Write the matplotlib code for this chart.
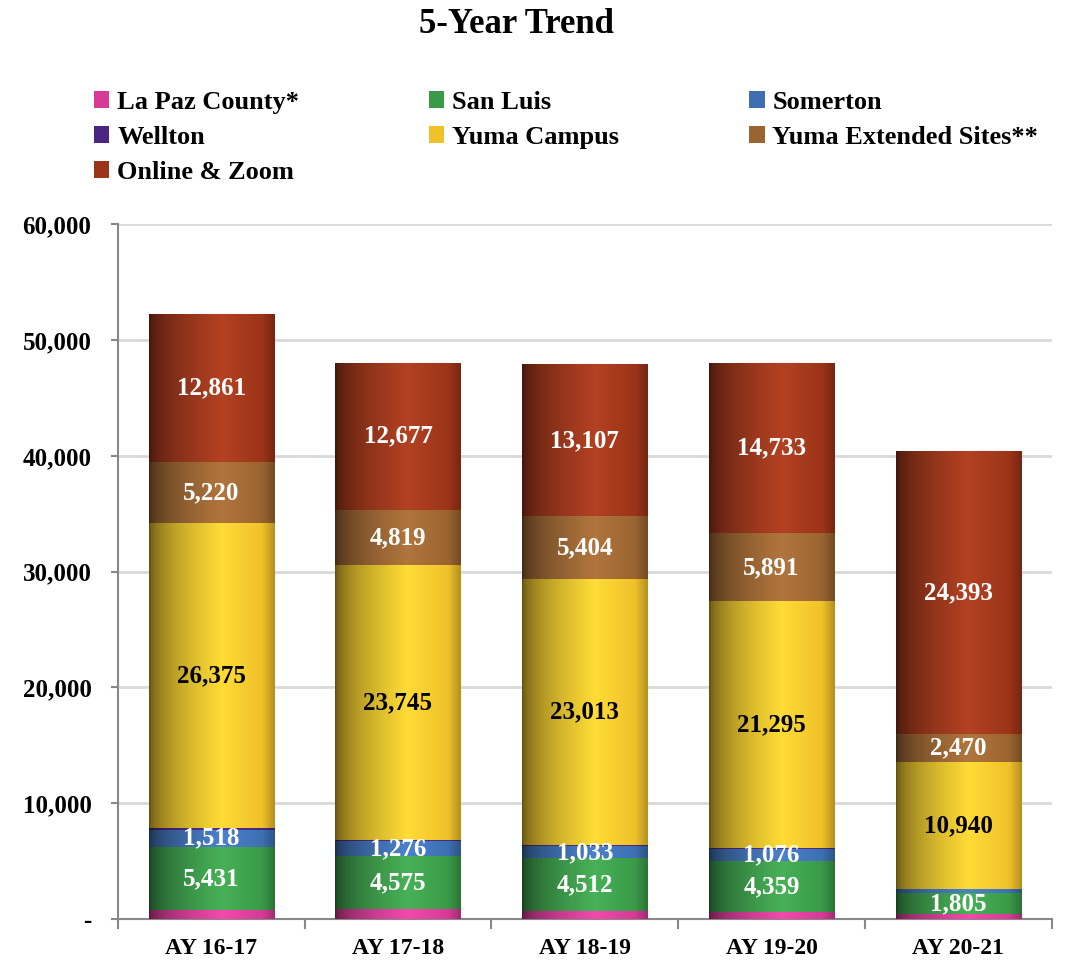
import numpy as np
import matplotlib
matplotlib.use("Agg")
import matplotlib.pyplot as plt
from matplotlib.colors import to_rgb
from matplotlib.ticker import FuncFormatter, MultipleLocator
from matplotlib.patches import Patch

plt.rcParams["font.family"] = ["Liberation Serif", "DejaVu Serif"]
plt.rcParams["font.weight"] = "bold"

years = ["AY 16-17", "AY 17-18", "AY 18-19", "AY 19-20", "AY 20-21"]

la_paz      = [780, 850, 730, 640, 400]
san_luis    = [5431, 4575, 4512, 4359, 1805]
somerton    = [1518, 1276, 1033, 1076, 350]
wellton     = [110, 100, 100, 60, 30]
yuma_campus = [26375, 23745, 23013, 21295, 10940]
yuma_ext    = [5220, 4819, 5404, 5891, 2470]
online      = [12861, 12677, 13107, 14733, 24393]

series = [
    ("La Paz County*",         la_paz,      "#D63B96", None),
    ("San Luis",               san_luis,    "#3A9A48", "white"),
    ("Somerton",               somerton,    "#3D6FB2", "white"),
    ("Wellton",                wellton,     "#4A2584", None),
    ("Yuma Campus",            yuma_campus, "#F0C12A", "black"),
    ("Yuma Extended Sites**",  yuma_ext,    "#9A6431", "white"),
    ("Online & Zoom",          online,      "#9C3418", "white"),
]


def gradient(color, n=240):
    """Sombreado cilíndrico: oscuro a la izquierda, claro cerca del centro."""
    c = np.array(to_rgb(color))
    light = np.clip(c * 1.1 + 0.03, 0, 1)
    dark_l = c * 0.38
    dark_r = c * 0.75
    t = np.linspace(0, 1, n)
    out = np.zeros((1, n, 3))
    for i, v in enumerate(t):
        if v < 0.58:
            s = (v / 0.58) ** 0.5
            out[0, i] = dark_l * (1 - s) + light * s
        elif v < 0.9:
            s = (v - 0.58) / 0.32
            out[0, i] = light * (1 - s) + c * s
        else:
            s = (v - 0.9) / 0.1
            out[0, i] = c * (1 - s) + dark_r * s
    return np.clip(out, 0, 1)


fig = plt.figure(figsize=(10.91, 9.63), dpi=100)
ax = fig.add_axes([0.108, 0.0457, 0.856, 0.7213])

x = np.arange(len(years))
width = 0.67
bottom = np.zeros(len(years))
handles = {}

for name, vals, color, txt in series:
    vals = np.array(vals, dtype=float)
    bars = ax.bar(x, vals, width, bottom=bottom, color=color, zorder=2)
    grad = gradient(color)
    for b in bars:
        bx, by = b.get_x(), b.get_y()
        im = ax.imshow(grad, extent=[bx, bx + b.get_width(), by, by + b.get_height()],
                       aspect="auto", zorder=3, interpolation="bilinear")
        im.set_clip_path(b)
    if txt is not None:
        for xi, v, b0 in zip(x, vals, bottom):
            if v < 500:
                continue
            ax.text(xi, b0 + v / 2, f"{int(v):,}", ha="center", va="center",
                    color=txt, fontsize=18, fontweight="bold", zorder=5)
    handles[name] = Patch(facecolor=color, edgecolor="none")
    bottom += vals

ax.set_xlim(-0.5, len(years) - 0.5)
ax.set_ylim(0, 60000)
ax.yaxis.set_major_locator(MultipleLocator(10000))
ax.yaxis.set_major_formatter(FuncFormatter(lambda v, p: "-" if v == 0 else f"{int(v):,}"))
ax.set_xticks(x)
ax.set_xticklabels(years)
ax.set_xticks(np.arange(-0.5, len(years)), minor=True)
ax.tick_params(axis="x", which="major", length=0, pad=14, labelsize=17)
ax.tick_params(axis="x", which="minor", length=7, color="#888888", width=1.5)
ax.tick_params(axis="y", length=5, color="#888888", width=1.5, labelsize=18, pad=14)
for lab in ax.get_xticklabels() + ax.get_yticklabels():
    lab.set_fontweight("bold")

ax.grid(axis="y", color="#D9D9D9", linewidth=2, zorder=0)
ax.set_axisbelow(True)
for s in ["top", "right"]:
    ax.spines[s].set_visible(False)
for s in ["left", "bottom"]:
    ax.spines[s].set_color("#888888")
    ax.spines[s].set_linewidth(1.5)

fig.text(0.473, 0.975, "5-Year Trend", ha="center", va="center",
         fontsize=25, fontweight="bold")

order = ["La Paz County*", "Wellton", "Online & Zoom", "San Luis", "Yuma Campus",
         "Somerton", "Yuma Extended Sites**"]
fig.legend([handles[k] for k in order], order, ncol=3, loc="upper left",
           bbox_to_anchor=(0.064, 0.93), frameon=False,
           handlelength=0.6, handleheight=0.6, handletextpad=0.3,
           columnspacing=4.9, labelspacing=0.45, prop={"weight": "bold", "size": 19})

plt.savefig("out.png", dpi=100)
plt.close(fig)
